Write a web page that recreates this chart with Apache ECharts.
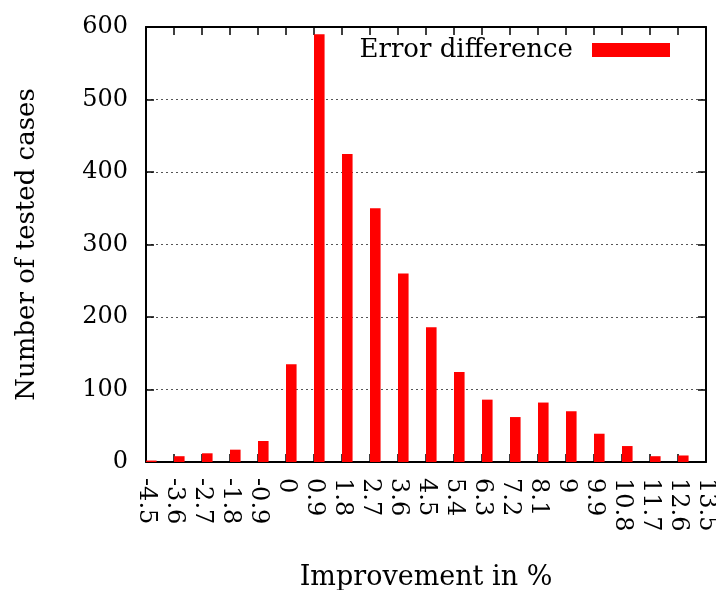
<!DOCTYPE html>
<html>
<head>
<meta charset="utf-8">
<script src="https://cdn.jsdelivr.net/npm/echarts@6/dist/echarts.min.js"></script>
<style>
  html, body { margin: 0; padding: 0; background: #fff; }
  #chart { width: 716px; height: 590px; }
</style>
</head>
<body>
<div id="chart"></div>
<script>
// Histogram of error improvement (%) across tested cases
const BIN_STARTS = [-4.5, -3.6, -2.7, -1.8, -0.9, 0, 0.9, 1.8, 2.7, 3.6,
                    4.5, 5.4, 6.3, 7.2, 8.1, 9, 9.9, 10.8, 11.7, 12.6];
const CASE_COUNTS = [2, 8, 12, 17, 29, 135, 590, 425, 350, 260,
                     186, 124, 86, 62, 82, 70, 39, 22, 8, 9];
const X_TICK_LABELS = ['-4.5', '-3.6', '-2.7', '-1.8', '-0.9', '0', '0.9', '1.8', '2.7', '3.6',
                       '4.5', '5.4', '6.3', '7.2', '8.1', '9', '9.9', '10.8', '11.7', '12.6', '13.5'];
const Y_TICK_LABELS = ['0', '100', '200', '300', '400', '500', '600'];
const SERIES_NAME = 'Error difference';

const X_MIN = -4.5, X_MAX = 13.5, X_STEP = 0.9;
const Y_MIN = 0, Y_MAX = 600, Y_STEP = 100;
const BAR_SPAN = 0.34;          // width of each box in axis units
const FONT = '"DejaVu Serif", serif';
const RED = '#ff0000';

const chart = echarts.init(document.getElementById('chart'), null, { renderer: 'canvas' });

const xLabel = v => X_TICK_LABELS[Math.round((v - X_MIN) / X_STEP)] ?? '';
const yLabel = v => Y_TICK_LABELS[Math.round((v - Y_MIN) / Y_STEP)] ?? '';

const axisLine = { show: true, onZero: false, lineStyle: { color: '#000', width: 2 } };
const tickIn = { show: true, inside: true, length: 8, lineStyle: { color: '#000', width: 1.5 } };

chart.setOption({
  animation: false,
  backgroundColor: '#fff',
  grid: { left: 146, right: 10, top: 27, bottom: 128, containLabel: false, outerBoundsMode: 'none' },
  legend: {
    data: [{ name: SERIES_NAME, icon: 'rect' }],
    align: 'right',
    right: 46,
    top: 37,
    padding: 0,
    itemWidth: 78,
    itemHeight: 14,
    textStyle: { fontFamily: FONT, fontSize: 26, color: '#000', padding: [0, 14, 0, 0] }
  },
  xAxis: [
    {
      type: 'value', position: 'bottom',
      min: X_MIN, max: X_MAX, interval: X_STEP,
      axisLine, axisTick: tickIn,
      splitLine: { show: false },
      axisLabel: {
        rotate: -90, margin: 16, formatter: xLabel,
        fontFamily: FONT, fontSize: 24, color: '#000'
      },
      name: 'Improvement in %', nameLocation: 'middle', nameGap: 102,
      nameTextStyle: { fontFamily: FONT, fontSize: 27, color: '#000' }
    },
    {
      type: 'value', position: 'top',
      min: X_MIN, max: X_MAX, interval: X_STEP,
      axisLine, axisTick: tickIn,
      splitLine: { show: false },
      axisLabel: { show: false }
    }
  ],
  yAxis: [
    {
      type: 'value', position: 'left',
      min: Y_MIN, max: Y_MAX, interval: Y_STEP,
      axisLine, axisTick: tickIn,
      splitLine: { show: true, lineStyle: { color: '#555', width: 1, type: [2, 3] } },
      axisLabel: { margin: 18, formatter: yLabel, fontFamily: FONT, fontSize: 24, color: '#000' },
      name: 'Number of tested cases', nameLocation: 'middle', nameRotate: 90, nameGap: 106,
      nameTextStyle: { fontFamily: FONT, fontSize: 26, color: '#000' }
    },
    {
      type: 'value', position: 'right',
      min: Y_MIN, max: Y_MAX, interval: Y_STEP,
      axisLine, axisTick: tickIn,
      splitLine: { show: false },
      axisLabel: { show: false }
    }
  ],
  series: [
    {
      name: SERIES_NAME,
      type: 'custom',
      xAxisIndex: 0, yAxisIndex: 0,
      itemStyle: { color: RED },
      encode: { x: 0, y: 1 },
      data: BIN_STARTS.map((x, i) => [x, CASE_COUNTS[i]]),
      renderItem(params, api) {
        const x = api.value(0), v = api.value(1);
        const p0 = api.coord([x, 0]);
        const p1 = api.coord([x + BAR_SPAN, v]);
        return {
          type: 'rect',
          shape: { x: p0[0], y: p1[1], width: p1[0] - p0[0], height: p0[1] - p1[1] },
          style: { fill: RED }
        };
      },
      z: 1
    }
  ]
});
</script>
</body>
</html>
